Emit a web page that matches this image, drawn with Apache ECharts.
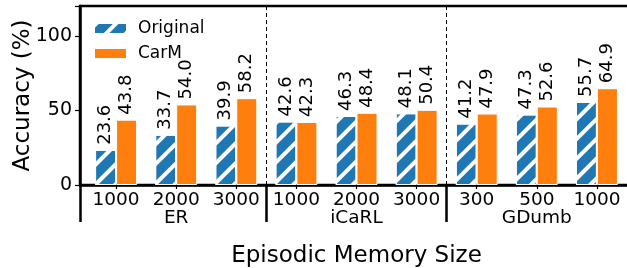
<!DOCTYPE html>
<html><head><meta charset="utf-8">
<script src="https://cdn.jsdelivr.net/npm/echarts@6/dist/echarts.min.js"></script>
<style>html,body{margin:0;padding:0;background:#fff}#c{width:627px;height:268px}</style>
</head><body><div id="c"></div>
<script>
const sizes = ['1000','2000','3000','1000','2000','3000','300','500','1000'];
const groups = ['ER','iCaRL','GDumb'];
const groupCenters = [1,4,7];
const groupSeparators = [2.5,5.5];
const original = [23.6,33.7,39.9,42.6,46.3,48.1,41.2,47.3,55.7];
const carm = [43.8,54.0,58.2,42.3,48.4,50.4,47.9,52.6,64.9];
const yTicks = [0,50,100];

const FONT = 'DejaVu Sans';
const chart = echarts.init(document.getElementById('c'), null, {renderer:'canvas'});
const idx = sizes.map((_, i) => i);
const valLabel = {
  show: true, position: 'top', rotate: 90, align: 'left', verticalAlign: 'middle',
  distance: 5, fontFamily: FONT, fontSize: 18, color: '#000',
  formatter: p => p.value[1].toFixed(1)
};
chart.setOption({
  animation: false,
  textStyle: {fontFamily: FONT},
  grid: {left: 80, top: 6, width: 553, height: 179, show: true, borderColor: '#000', borderWidth: 2.5,
    containLabel: false, outerBoundsMode: 'none'},
  legend: {
    left: 93, top: 20, padding: 0, orient: 'vertical', itemWidth: 33, itemHeight: 11, itemGap: 8,
    icon: 'rect',
    textStyle: {fontFamily: FONT, fontSize: 17, color: '#000', padding: [0, 0, 0, 6]},
    data: ['Original','CarM']
  },
  xAxis: [{
    type: 'value', min: -0.6, max: 8.6, position: 'bottom',
    axisLine: {show: true, onZero: false, lineStyle: {color: '#000', width: 2.5}},
    axisTick: {show: true, length: 4, customValues: idx, lineStyle: {color: '#000', width: 1.2}},
    axisLabel: {customValues: idx, formatter: v => sizes[Math.round(v)], fontFamily: FONT, fontSize: 18.5, color: '#000', margin: 6},
    splitLine: {show: false},
    name: 'Episodic Memory Size', nameLocation: 'middle', nameGap: 60, nameMoveOverlap: false,
    nameTextStyle: {fontFamily: FONT, fontSize: 23, color: '#000'}
  }, {
    type: 'value', min: -0.6, max: 8.6, position: 'bottom',
    axisLine: {show: false, onZero: false},
    axisTick: {show: true, length: 37, customValues: [-0.6].concat(groupSeparators), lineStyle: {color: '#000', width: 2.5}},
    axisLabel: {customValues: groupCenters, formatter: v => groups[groupCenters.indexOf(Math.round(v))], fontFamily: FONT, fontSize: 18.5, color: '#000', margin: 24},
    splitLine: {show: false}
  }],
  yAxis: {
    type: 'value', min: 0, max: 120, interval: 50,
    axisLine: {show: true, onZero: false, lineStyle: {color: '#000', width: 2.5}},
    axisTick: {show: true, length: 5, lineStyle: {color: '#000', width: 1.2}},
    axisLabel: {fontFamily: FONT, fontSize: 19, color: '#000', margin: 8,
      formatter: v => yTicks.includes(v) ? String(v) : ''},
    splitLine: {show: false},
    name: 'Accuracy (%)', nameLocation: 'middle', nameGap: 45, nameMoveOverlap: false,
    nameTextStyle: {fontFamily: FONT, fontSize: 23, color: '#000'}
  },
  series: [{
    name: 'Original', type: 'bar', xAxisIndex: 0, barWidth: 21, barGap: '0%',
    data: original.map((v, i) => [i, v]),
    itemStyle: {color: '#1f77b4', borderColor: '#fff', borderWidth: 1,
      decal: {symbol: 'rect', symbolSize: 1, color: '#ffffff', dashArrayX: [1, 0], dashArrayY: [4, 10], rotation: -Math.PI / 4}},
    label: valLabel
  }, {
    name: 'CarM', type: 'bar', xAxisIndex: 0, barWidth: 21, barGap: '0%',
    data: carm.map((v, i) => [i, v]),
    itemStyle: {color: '#ff7f0e', borderColor: '#fff', borderWidth: 1},
    label: valLabel
  }, {
    name: 'separators', type: 'line', xAxisIndex: 0, data: [], silent: true,
    markLine: {
      silent: true, symbol: 'none', label: {show: false},
      lineStyle: {color: '#000', type: [4, 3], width: 1},
      data: groupSeparators.map(x => ({xAxis: x}))
    }
  }]
});
</script></body></html>
